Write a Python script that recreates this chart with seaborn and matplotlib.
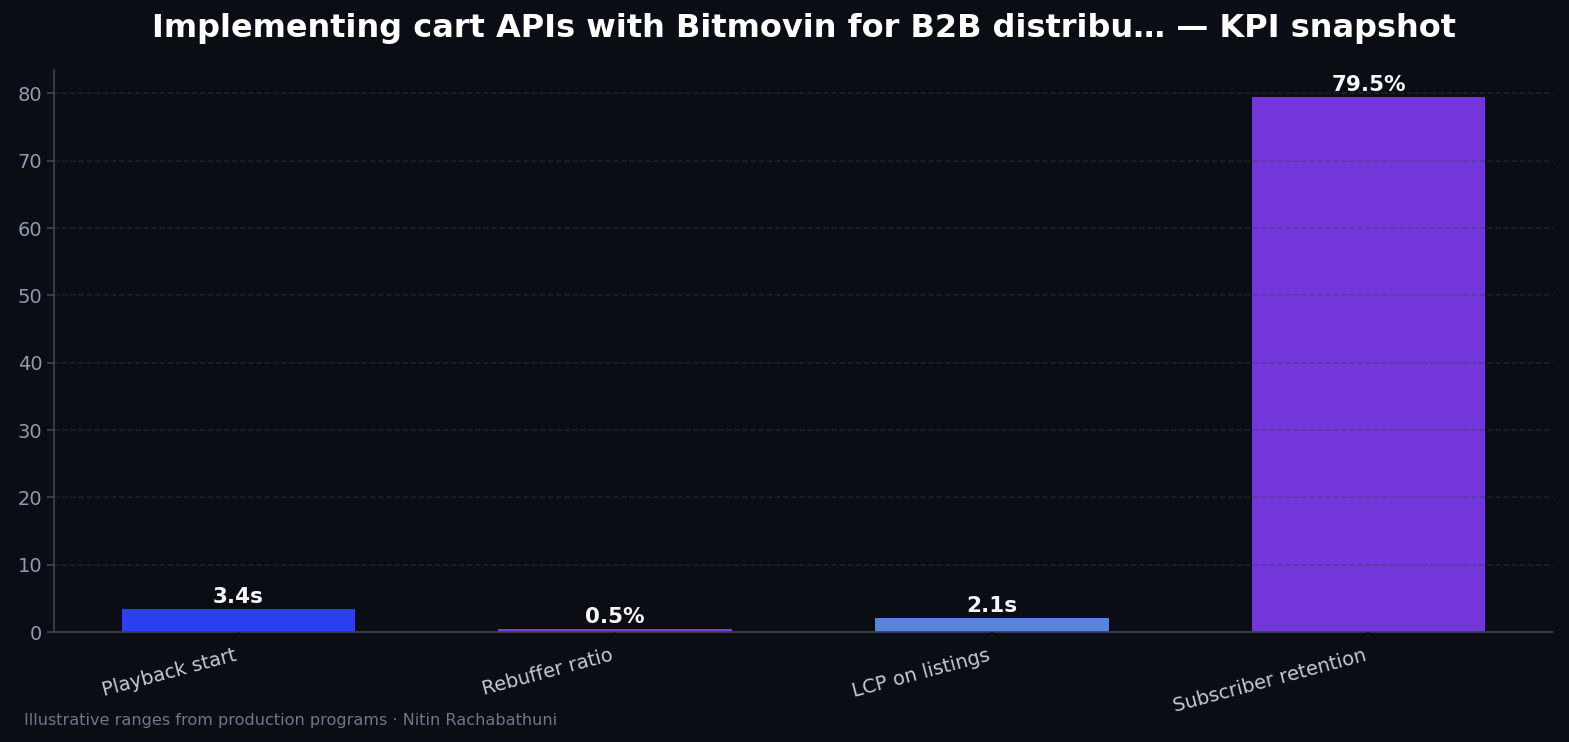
import matplotlib
matplotlib.use('Agg')
import matplotlib.pyplot as plt
import seaborn as sns
import pandas as pd

# 數據
metrics = ['Playback start', 'Rebuffer ratio', 'LCP on listings', 'Subscriber retention']
values = [3.4, 0.5, 2.1, 79.5]
labels = ['3.4s', '0.5%', '2.1s', '79.5%']
colors = ['#2d40ee', '#7b3fd8', '#5585dd', '#7336d9']

bg = '#0a0d14'

sns.set_theme(style='dark')
plt.rcParams['font.family'] = ['DejaVu Sans']

df = pd.DataFrame({'metric': metrics, 'value': values})

fig = plt.figure(figsize=(15.69, 7.42), dpi=100, facecolor=bg)
ax = fig.add_axes([54 / 1569, 1 - 632 / 742, (1553 - 54) / 1569, (632 - 70) / 742])
ax.set_facecolor(bg)

sns.barplot(data=df, x='metric', y='value', hue='metric', palette=colors,
            width=0.62, legend=False, ax=ax, saturation=1, edgecolor='none', linewidth=0)

# 數值標籤
for i, (v, lab) in enumerate(zip(values, labels)):
    ax.text(i, v + 0.3, lab, ha='center', va='bottom', color='#f5f7fa',
            fontsize=15.5, fontweight='bold')

ax.set_xlim(-0.49, 3.49)
ax.set_ylim(0, max(values) * 1.05)
ax.set_xlabel('')
ax.set_ylabel('')

ax.grid(axis='y', linestyle='--', color='#334155', alpha=0.45, linewidth=1.1)
ax.grid(axis='x', visible=False)
ax.set_axisbelow(False)

for side in ['top', 'right']:
    ax.spines[side].set_visible(False)
for side in ['left', 'bottom']:
    ax.spines[side].set_color('#3a4556')
    ax.spines[side].set_linewidth(1.2)

ax.tick_params(axis='y', colors='#8e9bb0', labelsize=14, length=5, left=True, color='#3a4556')
ax.tick_params(axis='x', colors='#c3cad6', labelsize=14, length=5, bottom=True, color='#111', pad=5)
ax.tick_params(axis='y', labelcolor='#8e9bb0')
ax.tick_params(axis='x', labelcolor='#c3cad6')
plt.setp(ax.get_xticklabels(), rotation=15, ha='right')

fig.text(804 / 1569, 1 - 28 / 742, 'Implementing cart APIs with Bitmovin for B2B distribu… — KPI snapshot',
         ha='center', va='center', color='#ffffff', fontsize=23, fontweight='bold')
fig.text(24 / 1569, 1 - 720 / 742, 'Illustrative ranges from production programs · Nitin Rachabathuni',
         ha='left', va='center', color='#6b7789', fontsize=11.6)

fig.savefig('out.png', dpi=100, facecolor=bg)
